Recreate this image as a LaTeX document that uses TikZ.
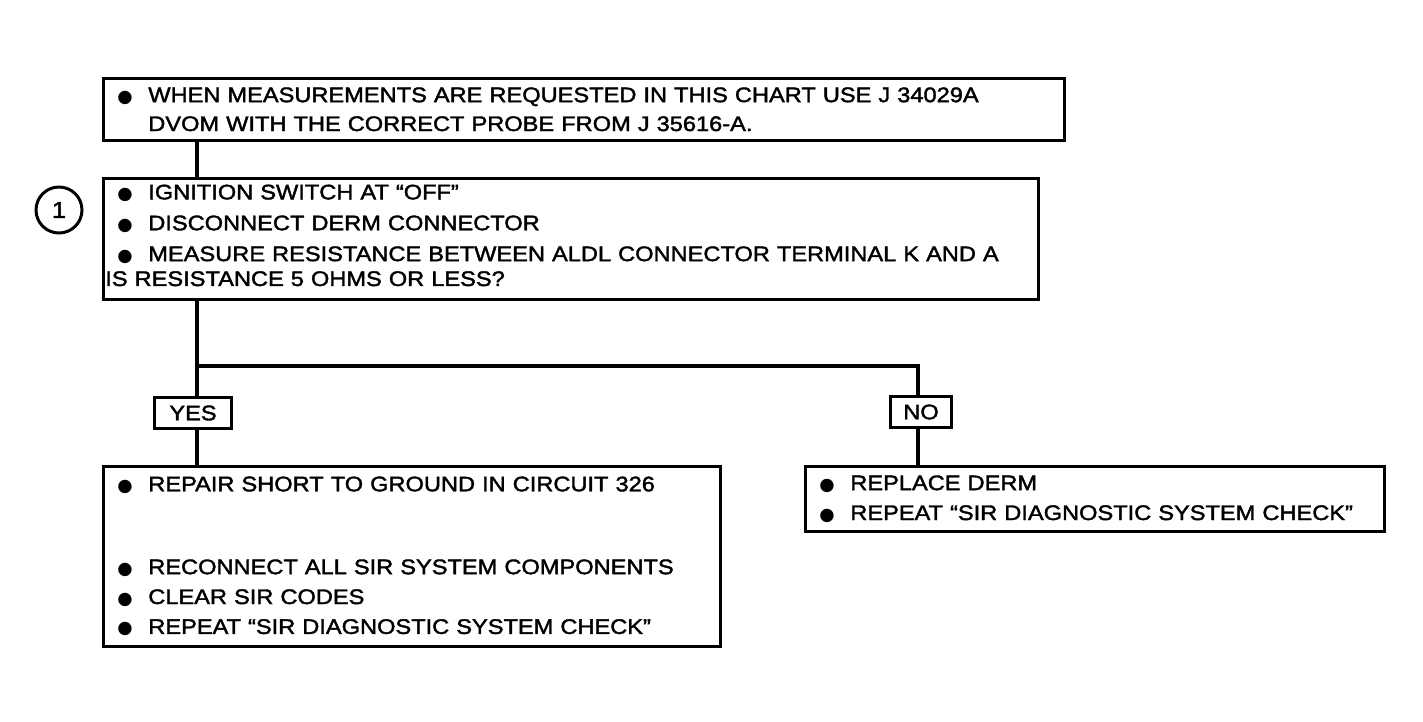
\documentclass[tikz,border=0pt]{standalone}
\usepackage{fontspec}
\setmainfont{Liberation Sans}[FakeStretch=1.12,FakeBold=1.8]
\newfontfamily\symfont{DejaVu Sans}
\usepackage{tikz}
\usetikzlibrary{positioning}

\newlength\px
\setlength\px{0.02cm}
\newcommand\bul{\makebox[43\px][l]{\hspace*{12\px}{\symfont\fontsize{10}{10}\selectfont ●}}}
\newcommand\ind{\hspace*{43\px}}

\tikzset{
  chart/.style={font=\fontsize{12}{17}\selectfont},
  stepbox/.style={draw,line width=1.5pt,anchor=north west,align=left,
    inner xsep=2\px,inner ysep=0pt},
  answer/.style={draw,line width=1.5pt,fill=white,inner xsep=12\px,
    inner ysep=0pt,minimum height=31\px},
  flow/.style={line width=2.5pt}
}

\begin{document}
\begin{tikzpicture}[x=0.02cm,y=-0.02cm,chart]
		\useasboundingbox (0,0) rectangle (1423,721);
		% boxes
		\node[stepbox,text width=957\px,minimum height=62\px] (note) at (102,77)
		{\bul WHEN MEASUREMENTS ARE REQUESTED IN THIS CHART USE J 34029A\\[-1\px]
		 \ind DVOM WITH THE CORRECT PROBE FROM J 35616-A.};
		\node[stepbox,text width=931\px,minimum height=121\px] (test) at (102,177)
		{\bul IGNITION SWITCH AT “OFF”\\[1\px]
		 \bul DISCONNECT DERM CONNECTOR\\[1\px]
		 \bul MEASURE RESISTANCE BETWEEN ALDL CONNECTOR TERMINAL K AND A\\[-5\px]
		 IS RESISTANCE 5 OHMS OR LESS?\rule[-7\px]{0pt}{0pt}};
		\node[draw,line width=1.7pt,circle,minimum size=46\px,inner sep=0pt,
		  font=\fontsize{13}{13}\selectfont] (one) at (59,210) {1};
		\node[stepbox,text width=613\px,minimum height=180\px] (repair) at (102,465)
		{\bul REPAIR SHORT TO GROUND IN CIRCUIT 326\\[53\px]
		 \bul RECONNECT ALL SIR SYSTEM COMPONENTS\\
		 \bul CLEAR SIR CODES\\
		 \bul REPEAT “SIR DIAGNOSTIC SYSTEM CHECK”};
		\node[stepbox,text width=575\px,minimum height=65\px] (replace) at (804,465)
		{\bul REPLACE DERM\\
		 \bul REPEAT “SIR DIAGNOSTIC SYSTEM CHECK”};
		% branch point
		\coordinate (split) at (197,366);
		\coordinate (turn) at (918,366);
		%
		\draw[flow] (note.south -| split) -- (test.north -| split);
		\draw[flow] (test.south -| split) -- (repair.north -| split);
		\draw[flow] (split) -- (turn) -- (replace.north -| turn);
		\node[answer,minimum width=77\px] (yes) at (193,413) {YES};
		\node[answer,minimum width=61\px] (no) at (921,412) {NO};
\end{tikzpicture}
\end{document}
